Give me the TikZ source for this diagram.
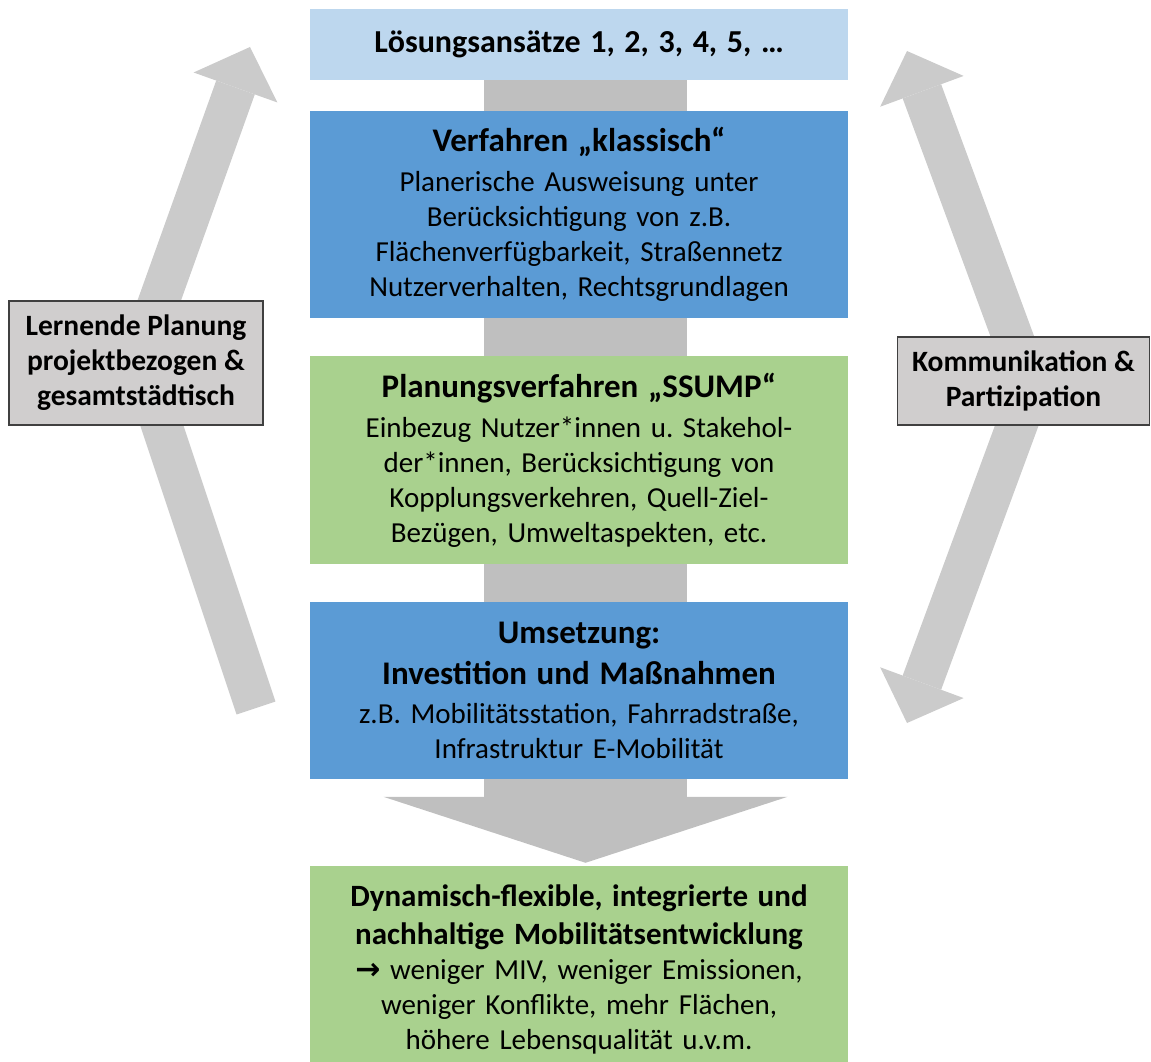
\documentclass[tikz,border=0pt]{standalone}
\usepackage{fontspec}
\setmainfont{Carlito}
\newfontfamily\arrowfont{DejaVu Sans}
\usetikzlibrary{arrows.meta, positioning, backgrounds}
\definecolor{lightblue}{HTML}{BDD7EE}
\definecolor{stageblue}{HTML}{5B9BD5}
\definecolor{stagegreen}{HTML}{A9D18E}
\definecolor{bandgray}{HTML}{BFBFBF}
\definecolor{sidegray}{HTML}{CBCBCB}
\definecolor{labelgray}{HTML}{D0CECE}
\tikzstyle{block} = [rectangle, minimum width=538pt, text width=530pt, align=center, inner sep=0pt, font=\fontsize{29}{35}\selectfont\frenchspacing]
\tikzstyle{sidebox} = [rectangle, draw=black!75, line width=1.2pt, fill=labelgray, align=center, inner sep=0pt, font=\fontsize{29.5}{35}\selectfont\bfseries]
\tikzstyle{sidearrow} = [line width=41pt, sidegray, line join=miter]
\newcommand{\ttl}[1]{{\fontsize{33}{35}\selectfont\bfseries #1}}
\newcommand{\ttlsmall}[1]{{\fontsize{31}{35}\selectfont\bfseries #1}}

\begin{document}
\begin{tikzpicture}[x=1pt, y=-1pt]
        \useasboundingbox (0,0) rectangle (1151,1062);

        \node (loesung) [block, fill=lightblue, minimum height=71pt] at (579,44.5) {
            \fontsize{32}{35}\selectfont\bfseries Lösungsansätze 1, 2, 3, 4, 5, …
        };

        \node (klassisch) [block, fill=stageblue, minimum height=207pt] at (579,214.5) {
            \ttl{Verfahren „klassisch“}\\[5pt]
            Planerische Ausweisung unter\\
            Berücksichtigung von z.B.\\
            Flächenverfügbarkeit, Straßennetz\\
            Nutzerverhalten, Rechtsgrundlagen
        };

        \node (ssump) [block, fill=stagegreen, minimum height=208pt] at (579,460) {
            \ttl{Planungsverfahren „SSUMP“}\\[5pt]
            Einbezug Nutzer*innen u. Stakehol-\\
            der*innen, Berücksichtigung von\\
            Kopplungsverkehren, Quell-Ziel-\\
            Bezügen, Umweltaspekten, etc.
        };

        \node (umsetzung) [block, fill=stageblue, minimum height=177pt] at (579,690.5) {
            \ttl{Umsetzung:}\\[6pt]
            \ttl{Investition und Maßnahmen}\\[4pt]
            z.B. Mobilitätsstation, Fahrradstraße,\\
            Infrastruktur E-Mobilität
        };

        \node (ziel) [block, fill=stagegreen, minimum height=206pt] at (579,969) {
            \ttlsmall{Dynamisch-flexible, integrierte und}\\[3pt]
            \ttlsmall{nachhaltige Mobilitätsentwicklung}\\
            {\arrowfont\bfseries\fontsize{30}{35}\selectfont →} weniger MIV, weniger Emissionen,\\
            weniger Konflikte, mehr Flächen,\\
            höhere Lebensqualität u.v.m.
        };

        % bent arrows at the sides
        \coordinate (lbot) at (256,708);
        \coordinate (lbend) at (139,357);
        \coordinate (ltip) at (250,47);
        \coordinate (rbot) at (907,723);
        \coordinate (rbend) at (1031,387);
        \coordinate (rtip) at (907,51);

        \draw [sidearrow, -{Triangle[length=43pt, width=89pt, line width=0pt]}] (lbot) -- (lbend) -- (ltip);
        \draw [sidearrow, {Triangle[length=43pt, width=89pt, line width=0pt]}-{Triangle[length=43pt, width=89pt, line width=0pt]}] (rbot) -- (rbend) -- (rtip);

        \node (lernend) [sidebox, minimum width=254pt, minimum height=124pt] at (136,363) {
            Lernende Planung\\
            projektbezogen \&\\
            gesamtstädtisch
        };

        \node (kommunikation) [sidebox, minimum width=252pt, minimum height=88pt] at (1023.5,381) {
            Kommunikation \&\\
            Partizipation
        };

        % central band behind the boxes
        \begin{scope}[on background layer]
            \draw [line width=203pt, bandgray, shorten >=8pt, -{Triangle[length=66pt, width=404pt, line width=0pt]}] ([xshift=6.5pt]loesung.south) -- ([xshift=6.5pt,yshift=-5pt]ziel.north);
        \end{scope}
    \end{tikzpicture}
\end{document}
